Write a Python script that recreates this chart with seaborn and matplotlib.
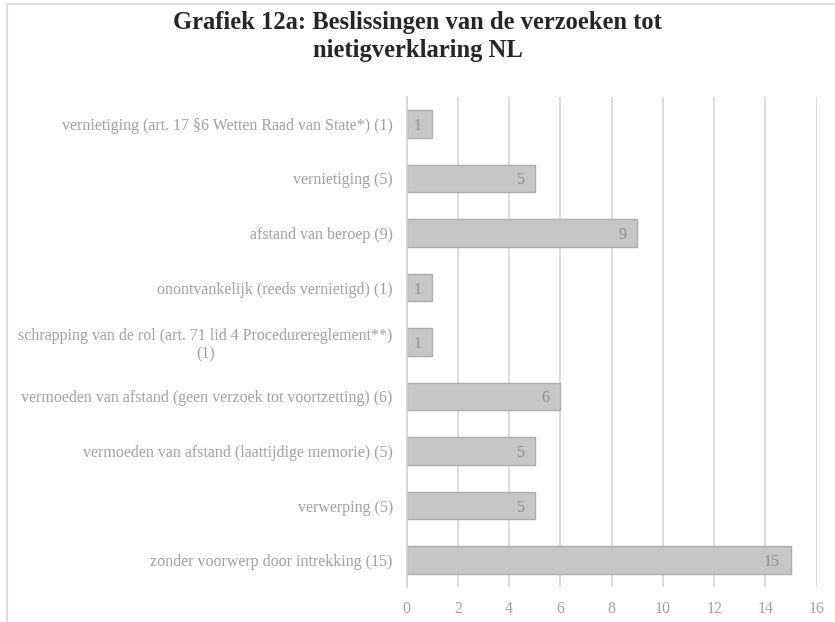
import matplotlib
matplotlib.use("Agg")
import matplotlib.pyplot as plt
import seaborn as sns
import pandas as pd
from matplotlib.patches import Rectangle

categories = [
    "vernietiging (art. 17 §6 Wetten Raad van State*) (1)",
    "vernietiging (5)",
    "afstand van beroep (9)",
    "onontvankelijk (reeds vernietigd) (1)",
    "schrapping van de rol (art. 71 lid 4 Procedurereglement**)\n(1)",
    "vermoeden van afstand (geen verzoek tot voortzetting) (6)",
    "vermoeden van afstand (laattijdige memorie) (5)",
    "verwerping (5)",
    "zonder voorwerp door intrekking (15)",
]
values = [1, 5, 9, 1, 1, 6, 5, 5, 15]
x_ticks = [0, 2, 4, 6, 8, 10, 12, 14, 16]
title = "Grafiek 12a: Beslissingen van de verzoeken tot\nnietigverklaring NL"

df = pd.DataFrame({"category": categories, "value": values})

sns.set_theme(style="white")
plt.rcParams["font.family"] = ["Liberation Serif", "DejaVu Serif"]

fig = plt.figure(figsize=(8.35, 6.22), dpi=100)
ax = fig.add_axes([406.7 / 835, 1 - 587.25 / 622, (816.7 - 406.7) / 835, (587.25 - 96.75) / 622])

sns.barplot(data=df, x="value", y="category", orient="h", ax=ax,
            color="#c6c6c6", edgecolor="#adadad", linewidth=1.0, width=0.505,
            saturation=1)

ax.set_xlim(0, 16)
ax.set_xticks(x_ticks)
ax.set_xticklabels([str(t) for t in x_ticks])
ax.set_xlabel("")
ax.set_ylabel("")
ax.grid(axis="x", color="#dcdcdc", linewidth=1.4)
ax.set_axisbelow(True)
for s in ["top", "right", "bottom"]:
    ax.spines[s].set_visible(False)
ax.spines["left"].set_color("#d4d4d4")
ax.spines["left"].set_linewidth(1.2)
ax.tick_params(axis="x", length=0, pad=10, labelsize=11.5, labelcolor="#a0a0a0")
ax.tick_params(axis="y", length=0, pad=10, labelsize=11.5, labelcolor="#a0a0a0")
for lab in ax.get_yticklabels():
    lab.set_multialignment("center")

for i, v in enumerate(values):
    ax.annotate(str(v), xy=(v, i), xytext=(-8, 0), textcoords="offset points",
                ha="right", va="center_baseline", fontsize=11.5, color="#909090")

fig.suptitle(title, y=1 - 11 / 622, va="top", fontsize=17.7, fontweight="bold",
             color="#262626", linespacing=1.25)

fig.patches.append(Rectangle((7 / 835, -0.1), 1.2, 1 - 4 / 622 + 0.1,
                             transform=fig.transFigure, fill=False,
                             edgecolor="#dedede", linewidth=1.5))

fig.savefig("out.png", dpi=100)
